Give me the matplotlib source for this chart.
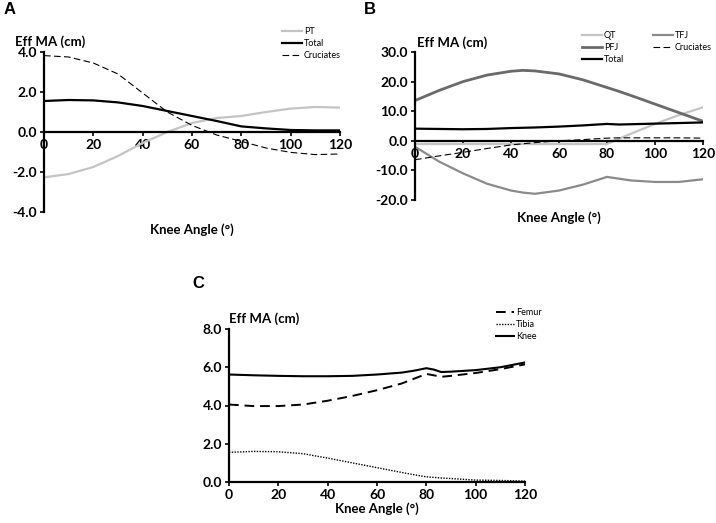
import matplotlib
matplotlib.use('Agg')
import matplotlib.pyplot as plt

# panel A
angA = [0, 10, 20, 30, 40, 50, 60, 70, 80, 90, 100, 110, 120]
ptA = [-2.27, -2.1, -1.75, -1.2, -0.55, 0.0, 0.45, 0.7, 0.8, 1.0, 1.17, 1.25, 1.22]
totA = [1.55, 1.6, 1.58, 1.48, 1.3, 1.05, 0.8, 0.55, 0.28, 0.18, 0.1, 0.08, 0.08]
crucA = [3.82, 3.75, 3.45, 2.9, 1.95, 1.0, 0.33, -0.15, -0.47, -0.8, -1.02, -1.13, -1.1]

# panel B
angB = [0, 10, 20, 30, 40, 45, 50, 60, 70, 80, 85, 90, 100, 110, 120]
qtB = [-1.1, -1.1, -1.1, -1.1, -1.1, -1.1, -1.1, -1.1, -1.1, -1.1, 0.7, 2.4, 5.7, 8.7, 11.3]
pfjB = [13.6, 17.0, 20.0, 22.2, 23.5, 23.8, 23.6, 22.6, 20.6, 18.0, 16.7, 15.3, 12.4, 9.5, 6.6]
tfjB = [-2.0, -7.0, -11.0, -14.5, -16.8, -17.5, -17.9, -16.8, -14.8, -12.2, -12.8, -13.4, -13.9, -13.9, -13.0]
crucB = [-6.4, -5.1, -3.9, -2.6, -1.4, -1.0, -0.6, 0.0, 0.4, 0.9, 1.0, 1.0, 1.0, 1.0, 0.9]
totB = [4.1, 4.0, 3.9, 4.0, 4.3, 4.4, 4.5, 4.8, 5.2, 5.7, 5.5, 5.6, 5.8, 6.0, 6.2]

# panel C
angC = [0, 10, 20, 30, 40, 50, 60, 70, 75, 80, 83, 86, 90, 100, 110, 120]
femC = [4.05, 3.97, 3.97, 4.05, 4.25, 4.5, 4.8, 5.15, 5.4, 5.65, 5.58, 5.5, 5.55, 5.7, 5.9, 6.15]
tibC = [1.55, 1.6, 1.58, 1.48, 1.25, 1.0, 0.75, 0.5, 0.38, 0.27, 0.24, 0.21, 0.18, 0.1, 0.08, 0.05]
kneeC = [5.62, 5.58, 5.55, 5.53, 5.53, 5.55, 5.62, 5.72, 5.82, 5.95, 5.88, 5.75, 5.77, 5.85, 6.0, 6.25]

xt = [0, 20, 40, 60, 80, 100, 120]

plt.rcParams['font.family'] = ['Lato', 'DejaVu Sans']

W, H = 716, 523
fig = plt.figure(figsize=(W/100, H/100), dpi=100)


def box(l, t, r, b):
    return [l/W, (H-b)/H, (r-l)/W, (b-t)/H]


def style(ax, yt, ylo, yhi, zero):
    ax.set_xlim(0, 120)
    ax.set_ylim(ylo, yhi)
    ax.spines['top'].set_visible(False)
    ax.spines['right'].set_visible(False)
    ax.spines['left'].set_linewidth(1.6)
    ax.spines['bottom'].set_linewidth(1.6)
    if zero:
        ax.spines['bottom'].set_position(('data', 0))
    ax.set_xticks(xt)
    ax.set_xticklabels([str(v) for v in xt], fontweight='bold', fontsize=10)
    ax.set_yticks(yt)
    ax.set_yticklabels(['%.1f' % v for v in yt], fontweight='bold', fontsize=10)
    ax.tick_params(direction='out', length=3, width=1.2, pad=2)
    ax.patch.set_alpha(0)


# ---- A
axA = fig.add_axes(box(44, 52, 340, 212))
axA.plot(angA, ptA, color='#c4c4c4', lw=1.6, label='PT')
axA.plot(angA, totA, color='black', lw=1.6, label='Total')
axA.plot(angA, crucA, color='black', lw=0.8, ls=(0, (6, 3)), label='Cruciates')
style(axA, [-4, -2, 0, 2, 4], -4, 4, True)
axA.legend(loc='upper left', bbox_to_anchor=(282/W, 1-27/H), bbox_transform=fig.transFigure,
           frameon=False, fontsize=6.5, handlelength=2.2, handletextpad=0.2, labelspacing=0.35,
           borderpad=0, borderaxespad=0)
fig.text(15/W, 1-42/H, 'Eff MA (cm)', fontsize=9.5, fontweight='bold', va='center')
fig.text(192/W, 1-230/H, 'Knee Angle (°)', fontsize=9.5, fontweight='bold', ha='center', va='center')
fig.text(4/W, 1-10/H, 'A', fontsize=12, fontweight='bold', va='center', family='Liberation Sans')

# ---- B
axB = fig.add_axes(box(415, 52, 703, 200))
axB.plot(angB, qtB, color='#c4c4c4', lw=1.6, label='QT')
axB.plot(angB, pfjB, color='#6a6a6a', lw=2.0, label='PFJ')
axB.plot(angB, totB, color='black', lw=1.6, label='Total')
axB.plot(angB, tfjB, color='#8a8a8a', lw=1.6, label='TFJ')
axB.plot(angB, crucB, color='black', lw=0.8, ls=(0, (6, 3)), label='Cruciates')
style(axB, [-20, -10, 0, 10, 20, 30], -20, 30, True)
axB.legend(loc='upper left', bbox_to_anchor=(582/W, 1-31/H), bbox_transform=fig.transFigure,
           ncol=2, columnspacing=3.2, frameon=False, fontsize=6.5, handlelength=2.2,
           handletextpad=0.2, labelspacing=0.35, borderpad=0, borderaxespad=0)
fig.text(417/W, 1-43/H, 'Eff MA (cm)', fontsize=9.5, fontweight='bold', va='center')
fig.text(559/W, 1-218/H, 'Knee Angle (°)', fontsize=9.5, fontweight='bold', ha='center', va='center')
fig.text(364/W, 1-10/H, 'B', fontsize=12, fontweight='bold', va='center', family='Liberation Sans')

# ---- C
axC = fig.add_axes(box(229, 329, 525, 482))
axC.plot(angC, femC, color='black', lw=1.4, ls=(0, (5, 3)), label='Femur')
axC.plot(angC, tibC, color='black', lw=1.0, ls=(0, (1, 1)), label='Tibia')
axC.plot(angC, kneeC, color='black', lw=1.5, label='Knee')
style(axC, [0, 2, 4, 6, 8], 0, 8, False)
axC.legend(loc='upper left', bbox_to_anchor=(496/W, 1-308/H), bbox_transform=fig.transFigure,
           frameon=False, fontsize=6.5, handlelength=2.0, handletextpad=0.2, labelspacing=0.35,
           borderpad=0, borderaxespad=0)
fig.text(229/W, 1-319/H, 'Eff MA (cm)', fontsize=9.5, fontweight='bold', va='center')
fig.text(377/W, 1-509/H, 'Knee Angle (°)', fontsize=9.5, fontweight='bold', ha='center', va='center')
fig.text(192/W, 1-283/H, 'C', fontsize=12, fontweight='bold', va='center', family='Liberation Sans')

fig.savefig('out.png', dpi=100)
